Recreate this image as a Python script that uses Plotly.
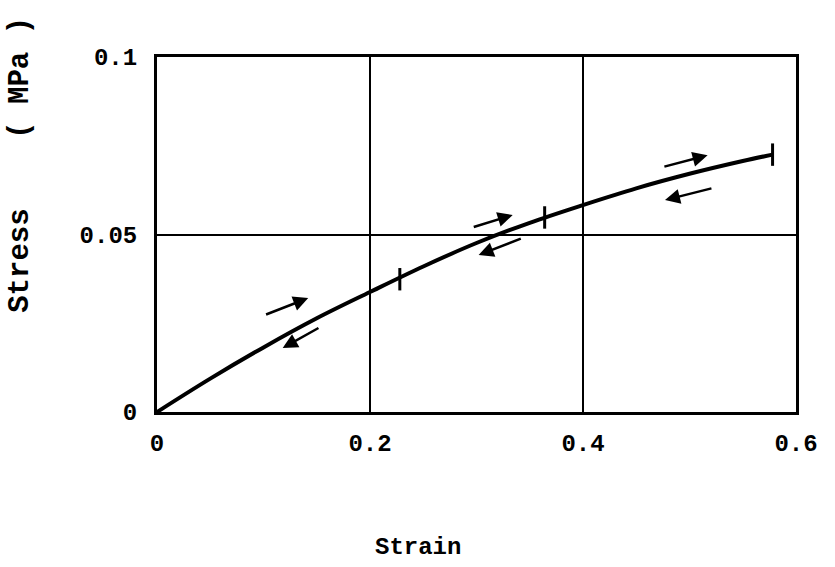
import plotly.graph_objects as go

strain = [0, 0.05, 0.1, 0.15, 0.2, 0.25, 0.3, 0.35, 0.4, 0.45, 0.5, 0.55, 0.578]
stress = [0, 0.0094, 0.0182, 0.0264, 0.0338, 0.0410, 0.0476, 0.0533, 0.0583, 0.0630, 0.0671, 0.0707, 0.0725]

tick_strain = [0.228, 0.364, 0.578]
tick_stress = [0.0374, 0.0548, 0.0725]

# loading (up) arrows: start -> end
up_x0 = [0.101, 0.296, 0.475]
up_y0 = [0.0273, 0.0520, 0.0690]
up_x1 = [0.142, 0.334, 0.517]
up_y1 = [0.0321, 0.0555, 0.0723]
# unloading (down) arrows: start -> end
dn_x0 = [0.153, 0.343, 0.522]
dn_y0 = [0.0239, 0.0490, 0.0631]
dn_x1 = [0.118, 0.302, 0.477]
dn_y1 = [0.0180, 0.0442, 0.0597]

x_ticks = [0, 0.2, 0.4, 0.6]
x_labels = ["0", "0.2", "0.4", "0.6"]
y_ticks = [0, 0.05, 0.1]
y_labels = ["0", "0.05", "0.1"]

font_mono = "Liberation Mono, Courier New, monospace"

fig = go.Figure()
fig.add_trace(go.Scatter(x=strain, y=stress, mode="lines",
                         line=dict(color="black", width=4, shape="spline"),
                         showlegend=False, hoverinfo="skip"))
fig.add_trace(go.Scatter(x=tick_strain, y=tick_stress, mode="markers",
                         marker=dict(symbol="line-ns", size=16,
                                     line=dict(color="black", width=3)),
                         showlegend=False, hoverinfo="skip"))

for xs, ys, xe, ye in list(zip(up_x0, up_y0, up_x1, up_y1)) + list(zip(dn_x0, dn_y0, dn_x1, dn_y1)):
    fig.add_annotation(x=xe, y=ye, ax=xs, ay=ys, xref="x", yref="y",
                       axref="x", ayref="y", text="", showarrow=True,
                       arrowhead=2, arrowsize=1.2, arrowwidth=2.5,
                       arrowcolor="black")

fig.add_annotation(text="Stress&nbsp;&nbsp;&nbsp;&nbsp;( MPa )", xref="paper", yref="paper",
                   x=-0.213, y=0.696, showarrow=False, textangle=-90,
                   font=dict(family=font_mono, size=29, color="black", weight="bold"),
                   xanchor="center", yanchor="middle")
fig.add_annotation(text="Strain", xref="paper", yref="paper",
                   x=0.408, y=-0.383, xanchor="center", yanchor="middle", showarrow=False,
                   font=dict(family=font_mono, size=24, color="black", weight="bold"))

fig.update_xaxes(range=[0, 0.6], tickvals=x_ticks, ticktext=x_labels,
                 showgrid=True, gridcolor="black", gridwidth=2,
                 showline=True, linecolor="black", linewidth=3, mirror=True,
                 zeroline=False, ticks="", ticklabelstandoff=7,
                 tickfont=dict(family=font_mono, size=24, color="black", weight="bold"))
fig.update_yaxes(range=[0, 0.1], tickvals=y_ticks, ticktext=y_labels,
                 showgrid=True, gridcolor="black", gridwidth=2,
                 showline=True, linecolor="black", linewidth=3, mirror=True,
                 zeroline=False, ticks="", ticklabelstandoff=12,
                 tickfont=dict(family=font_mono, size=24, color="black", weight="bold"))

fig.update_layout(width=835, height=567,
                  margin=dict(l=157, r=39, t=57, b=155),
                  paper_bgcolor="white", plot_bgcolor="white")

fig.write_html("out.html")
